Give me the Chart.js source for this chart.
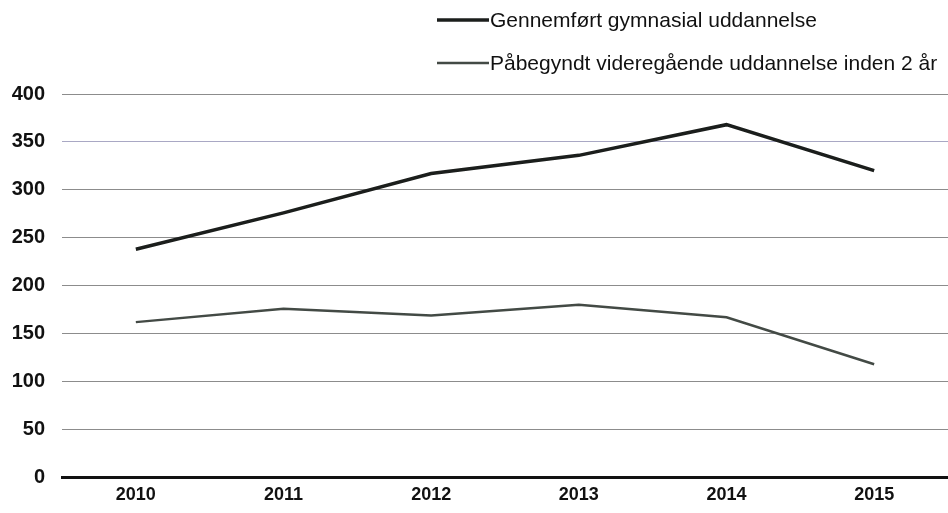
<!DOCTYPE html>
<html>
<head>
<meta charset="utf-8">
<script src="https://cdn.jsdelivr.net/npm/chart.js@4/dist/chart.umd.min.js"></script>
<style>
  body { margin: 0; background: #fff; }
  canvas { display: block; }
</style>
</head>
<body>
<canvas id="chart" width="948" height="513"></canvas>
<script>
const years = ['2010', '2011', '2012', '2013', '2014', '2015']
const gymnasial = [238, 276, 317, 336, 368, 320]
const videregaende = [162, 176, 169, 180, 167, 118]
const seriesNames = ['Gennemført gymnasial uddannelse', 'Påbegyndt videregående uddannelse inden 2 år']

const ctx = document.getElementById('chart').getContext('2d')

// legend stacked in the top right, drawn by hand
const stackedLegend = {
    id: 'stackedLegend',
    afterDraw(chart) {
        const c = chart.ctx
        c.save()
        c.font = '21px "Liberation Sans", Arial, sans-serif'
        c.textBaseline = 'middle'
        chart.data.datasets.forEach((ds, i) => {
            const y = 20 + i * 43
            c.strokeStyle = ds.borderColor
            c.lineWidth = ds.borderWidth
            c.beginPath()
            c.moveTo(437, y)
            c.lineTo(489, y)
            c.stroke()
            c.fillStyle = '#111'
            c.fillText(ds.label, 490, y + 1)
        })
        c.restore()
    }
}

new Chart(ctx, {
    type: 'line',
    data: {
        labels: years,
        datasets: [{
            label: seriesNames[0],
            data: gymnasial,
            borderColor: '#1b1e1c',
            borderWidth: 3.5,
            pointRadius: 0,
            tension: 0
        }, {
            label: seriesNames[1],
            data: videregaende,
            borderColor: '#434a45',
            borderWidth: 2.5,
            pointRadius: 0,
            tension: 0
        }]
    },
    options: {
        responsive: false,
        animation: false,
        layout: { padding: { top: 94, right: 0, bottom: 0, left: 0 } },
        plugins: {
            legend: { display: false },
            tooltip: { enabled: false }
        },
        scales: {
            x: {
                offset: true,
                grid: { display: false, drawTicks: false },
                border: { display: true, color: '#111', width: 3 },
                ticks: {
                    color: '#111',
                    padding: 7,
                    font: { family: '"Liberation Sans", Arial, sans-serif', size: 18, weight: 'bold' }
                }
            },
            y: {
                min: 0,
                max: 400,
                ticks: {
                    stepSize: 50,
                    color: '#111',
                    padding: 17,
                    font: { family: '"Liberation Sans", Arial, sans-serif', size: 20, weight: 'bold' }
                },
                grid: {
                    drawTicks: false,
                    color: (c) => c.tick && c.tick.value === 350 ? '#a9a8c4' : '#8c8c8c',
                    lineWidth: (c) => c.tick && c.tick.value === 0 ? 0 : 1
                },
                border: { display: false },
                afterFit(scale) { scale.width = 62 }
            }
        }
    },
    plugins: [stackedLegend]
})
</script>
</body>
</html>
